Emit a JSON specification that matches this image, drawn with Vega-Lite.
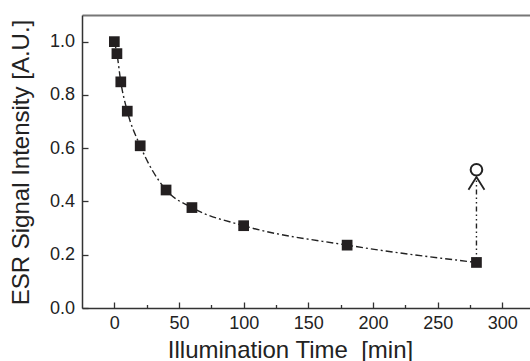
{
  "$schema": "https://vega.github.io/schema/vega-lite/v6.json",
  "width": 448,
  "height": 293,
  "autosize": "none",
  "padding": {"left": 82, "top": 15, "right": 0, "bottom": 53},
  "background": "white",
  "config": {
    "view": {"stroke": null},
    "axis": {
      "labelFont": "Liberation Sans",
      "titleFont": "Liberation Sans",
      "labelFontSize": 18,
      "titleFontSize": 24,
      "titleFontWeight": "normal",
      "labelColor": "#222",
      "titleColor": "#222",
      "domainColor": "#333",
      "tickColor": "#333",
      "domainWidth": 1.5,
      "tickWidth": 1.3,
      "grid": false
    }
  },
  "datasets": {
    "decay": [
      {"t": 0, "v": 1.0},
      {"t": 2, "v": 0.955},
      {"t": 5, "v": 0.849},
      {"t": 10, "v": 0.739},
      {"t": 20, "v": 0.609},
      {"t": 40, "v": 0.443},
      {"t": 60, "v": 0.377},
      {"t": 100, "v": 0.309},
      {"t": 180, "v": 0.236},
      {"t": 280, "v": 0.171}
    ],
    "recovery": [
      {"t": 280, "v": 0.171, "v2": 0.492}
    ],
    "recovered": [
      {"t": 280, "v": 0.519}
    ],
    "arrow": [
      {"t": 280, "v": 0.492}
    ]
  },
  "resolve": {"axis": {"x": "independent"}},
  "layer": [
    {
      "data": {"name": "decay"},
      "mark": {"type": "line", "interpolate": "monotone", "color": "#222", "strokeWidth": 1.4, "strokeDash": [7, 3, 2, 3]},
      "encoding": {
        "x": {
          "field": "t", "type": "quantitative",
          "scale": {"domain": [-25, 321.4], "nice": false, "zero": false},
          "axis": {
            "orient": "bottom",
            "title": "Illumination Time\u00a0 [min]",
            "values": [0, 25, 50, 75, 100, 125, 150, 175, 200, 225, 250, 275, 300],
            "labelExpr": "datum.value % 50 === 0 ? datum.label : ''",
            "tickSize": {"condition": {"test": "datum.value % 50 === 0", "value": -6}, "value": -3.5},
            "labelPadding": 12,
            "titleX": 208,
            "titleY": 49,
            "titleBaseline": "alphabetic",
            "titleAlign": "center",
            "titleAnchor": null
          }
        },
        "y": {
          "field": "v", "type": "quantitative",
          "scale": {"domain": [0, 1.1], "nice": false, "zero": false},
          "axis": {
            "title": "ESR Signal Intensity [A.U.]",
            "values": [0, 0.1, 0.2, 0.3, 0.4, 0.5, 0.6, 0.7, 0.8, 0.9, 1.0],
            "format": ".1f",
            "labelExpr": "round(datum.value * 10) % 2 === 0 ? datum.label : ''",
            "tickSize": {"condition": {"test": "round(datum.value * 10) % 2 === 0", "value": -6}, "value": -3.5},
            "labelPadding": 13.5,
            "labelAlign": "right",
            "titleX": -54,
            "titleY": 147,
            "titleBaseline": "alphabetic",
            "titleAlign": "center",
            "titleAngle": -90
          }
        }
      }
    },
    {
      "data": {"name": "recovery"},
      "mark": {"type": "rule", "color": "#222", "strokeWidth": 1.4, "strokeDash": [5, 3, 1.5, 3, 1.5, 3]},
      "encoding": {
        "x": {"field": "t", "type": "quantitative", "scale": {"domain": [-25, 321.4], "nice": false, "zero": false}, "axis": null},
        "y": {"field": "v", "type": "quantitative", "scale": {"domain": [0, 1.1], "nice": false, "zero": false}},
        "y2": {"field": "v2"}
      }
    },
    {
      "data": {"name": "decay"},
      "mark": {"type": "point", "shape": "square", "filled": true, "size": 115, "color": "#231f20", "opacity": 1},
      "encoding": {
        "x": {"field": "t", "type": "quantitative", "scale": {"domain": [-25, 321.4], "nice": false, "zero": false}, "axis": null},
        "y": {"field": "v", "type": "quantitative", "scale": {"domain": [0, 1.1], "nice": false, "zero": false}}
      }
    },
    {
      "data": {"name": "arrow"},
      "mark": {"type": "point", "shape": "M-1,1.6L0,0L1,1.6", "filled": false, "size": 256, "color": "#222", "strokeWidth": 1.8, "opacity": 1},
      "encoding": {
        "x": {"field": "t", "type": "quantitative", "scale": {"domain": [-25, 321.4], "nice": false, "zero": false}, "axis": null},
        "y": {"field": "v", "type": "quantitative", "scale": {"domain": [0, 1.1], "nice": false, "zero": false}}
      }
    },
    {
      "data": {"name": "recovered"},
      "mark": {"type": "point", "shape": "circle", "filled": false, "fill": "white", "size": 135, "color": "#222", "strokeWidth": 2, "opacity": 1},
      "encoding": {
        "x": {
          "field": "t", "type": "quantitative",
          "scale": {"domain": [-25, 321.4], "nice": false, "zero": false},
          "axis": {"orient": "top", "labels": false, "ticks": false, "title": null, "domainColor": "#777", "domainWidth": 1.8}
        },
        "y": {"field": "v", "type": "quantitative", "scale": {"domain": [0, 1.1], "nice": false, "zero": false}}
      }
    }
  ]
}
